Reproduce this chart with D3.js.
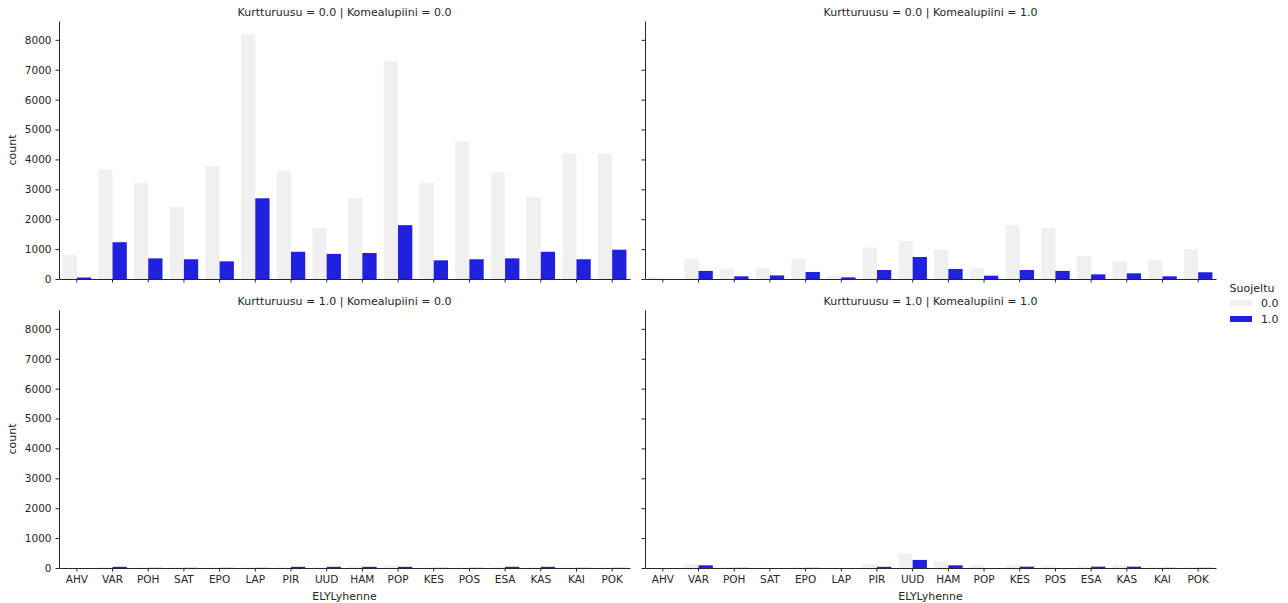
<!DOCTYPE html>
<html>
<head>
<meta charset="utf-8">
<script src="https://cdn.jsdelivr.net/npm/d3@7"></script>
<style>
    body { margin: 0; background: #fff; }
    text { font-family: "DejaVu Sans", sans-serif; fill: #262626; }
    .axis path, .axis line { stroke: #262626; }
</style>
</head>
<body>
<div id="container"></div>
<script>
const WIDTH = 1288;
const HEIGHT = 603;
const PANEL_W = 571;
const PANEL_H = 258;

const categories = ["AHV", "VAR", "POH", "SAT", "EPO", "LAP", "PIR", "UUD", "HAM", "POP", "KES", "POS", "ESA", "KAS", "KAI", "POK"];
const hueLevels = ["0.0", "1.0"];
const yTicks = [0, 1000, 2000, 3000, 4000, 5000, 6000, 7000, 8000];

// Kurtturuusu = 0.0 | Komealupiini = 0.0
const k0m0_not = [800, 3670, 3210, 2410, 3780, 8190, 3600, 1700, 2710, 7290, 3210, 4600, 3560, 2740, 4200, 4200];
const k0m0_prot = [50, 1230, 690, 660, 590, 2700, 910, 840, 870, 1800, 625, 660, 690, 910, 660, 980];
// Kurtturuusu = 0.0 | Komealupiini = 1.0
const k0m1_not = [60, 670, 345, 380, 670, 120, 1050, 1280, 980, 380, 1800, 1700, 770, 590, 625, 1010];
const k0m1_prot = [0, 270, 90, 120, 235, 55, 300, 735, 335, 110, 300, 270, 155, 190, 90, 225];
// Kurtturuusu = 1.0 | Komealupiini = 0.0
const k1m0_not = [5, 30, 20, 20, 20, 20, 30, 30, 60, 90, 20, 20, 30, 30, 20, 20];
const k1m0_prot = [0, 40, 5, 5, 5, 5, 40, 40, 40, 40, 5, 5, 40, 40, 5, 5];
// Kurtturuusu = 1.0 | Komealupiini = 1.0
const k1m1_not = [5, 120, 35, 10, 25, 10, 120, 480, 220, 100, 100, 70, 70, 100, 30, 30];
const k1m1_prot = [0, 90, 5, 0, 5, 0, 40, 270, 90, 0, 45, 0, 45, 45, 5, 5];

var colors = d3.scaleOrdinal().domain(hueLevels).range(["#f0f0f0", "#2020df"]);

var facets = [
    { title: "Kurtturuusu = 0.0 | Komealupiini = 0.0", left: 59, top: 21, series: [k0m0_not, k0m0_prot], col: 0, row: 0 },
    { title: "Kurtturuusu = 0.0 | Komealupiini = 1.0", left: 645, top: 21, series: [k0m1_not, k0m1_prot], col: 1, row: 0 },
    { title: "Kurtturuusu = 1.0 | Komealupiini = 0.0", left: 59, top: 310, series: [k1m0_not, k1m0_prot], col: 0, row: 1 },
    { title: "Kurtturuusu = 1.0 | Komealupiini = 1.0", left: 645, top: 310, series: [k1m1_not, k1m1_prot], col: 1, row: 1 }
];

var x = d3.scaleBand().domain(categories).range([0, PANEL_W]).paddingInner(0).paddingOuter(0);
var y = d3.scaleLinear().domain([0, 8630]).range([PANEL_H, 0]);
var hueX = d3.scaleBand().domain(hueLevels).range([x.bandwidth() * 0.1, x.bandwidth() * 0.9]);

var drawFacet = function (svg, facet) {
    var g = svg.append("g")
        .attr("transform", "translate(" + facet.left + "," + facet.top + ")");

    g.append("text")
        .attr("x", PANEL_W / 2)
        .attr("y", -5)
        .attr("text-anchor", "middle")
        .style("font-size", "11px")
        .text(facet.title);

    hueLevels.forEach(function (hue, i) {
        g.append("g").selectAll("rect")
            .data(facet.series[i])
            .enter().append("rect")
            .attr("x", function (d, j) { return x(categories[j]) + hueX(hue); })
            .attr("y", function (d) { return y(d); })
            .attr("width", hueX.bandwidth())
            .attr("height", function (d) { return PANEL_H - y(d); })
            .attr("fill", colors(hue));
    });

    var yAxis = d3.axisLeft(y).tickValues(yTicks).tickSize(3.5).tickSizeOuter(0).tickPadding(4).tickFormat(d3.format("d"));
    if (facet.col === 1) yAxis.tickFormat("");
    g.append("g").attr("class", "axis").call(yAxis)
        .style("font-size", "10.5px");

    var xAxis = d3.axisBottom(x).tickSize(3.5).tickSizeOuter(0).tickPadding(4);
    if (facet.row === 0) xAxis.tickFormat("");
    g.append("g").attr("class", "axis")
        .attr("transform", "translate(0," + PANEL_H + ")")
        .call(xAxis)
        .style("font-size", "10.5px");

    g.selectAll(".axis text").attr("fill", "#262626").attr("font-family", "DejaVu Sans");

    if (facet.row === 1) {
        g.append("text")
            .attr("x", PANEL_W / 2)
            .attr("y", PANEL_H + 32)
            .attr("text-anchor", "middle")
            .style("font-size", "11px")
            .text("ELYLyhenne");
    }
    if (facet.col === 0) {
        g.append("text")
            .attr("transform", "translate(-43," + PANEL_H / 2 + ") rotate(-90)")
            .attr("text-anchor", "middle")
            .style("font-size", "11px")
            .text("count");
    }
};

var drawLegend = function (svg) {
    var lg = svg.append("g").attr("transform", "translate(1230,288)");
    lg.append("text")
        .attr("x", 22)
        .attr("y", 4)
        .attr("text-anchor", "middle")
        .style("font-size", "11px")
        .text("Suojeltu");
    hueLevels.forEach(function (hue, i) {
        lg.append("rect")
            .attr("x", 0)
            .attr("y", 12 + i * 16)
            .attr("width", 22)
            .attr("height", 6)
            .attr("fill", colors(hue));
        lg.append("text")
            .attr("x", 31)
            .attr("y", 19 + i * 16)
            .style("font-size", "11px")
            .text(hue);
    });
};

var drawChart = function () {
    var svg = d3.select("#container").append("svg")
        .attr("width", WIDTH)
        .attr("height", HEIGHT);

    facets.forEach(function (facet) {
        drawFacet(svg, facet);
    });
    drawLegend(svg);
};

window.onload = drawChart;
</script>
</body>
</html>
